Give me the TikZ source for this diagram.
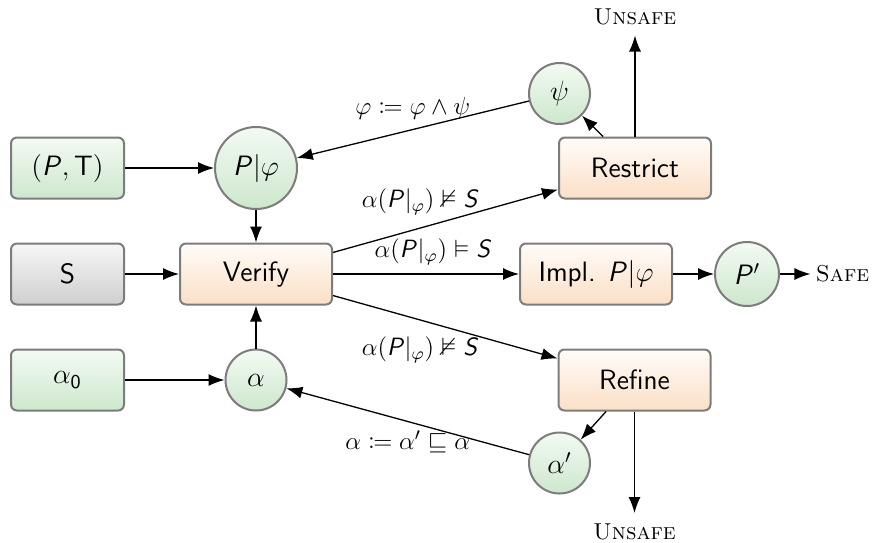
\RequirePackage{fix-cm}
\documentclass[tikz,border=0pt]{standalone}
\usepackage{amssymb}
\usepackage{mathtools}
\usetikzlibrary{arrows.meta}
% sans-serif italic letters for program and specification names
\DeclareMathAlphabet{\mathsfit}{OT1}{cmss}{m}{sl}
\definecolor{boxline}{HTML}{7C7C7C}
\definecolor{greenTop}{HTML}{F3FAF3}
\definecolor{greenBot}{HTML}{CDE7CD}
\definecolor{orangeTop}{HTML}{FFFCF9}
\definecolor{orangeBot}{HTML}{FBDFC6}
\definecolor{grayTop}{HTML}{F6F6F6}
\definecolor{grayBot}{HTML}{CFCFCF}
\begin{document}
\begin{tikzpicture}[x=0.5pt,y=-0.5pt,
  every node/.style={font=\sffamily\fontsize{14}{16}\selectfont},
  base/.style={draw=boxline, line width=1pt, inner sep=0pt},
  inbox/.style={base, rounded corners=3pt, minimum width=56.5pt, minimum height=30.5pt,
    top color=greenTop, bottom color=greenBot},
  graybox/.style={inbox, top color=grayTop, bottom color=grayBot},
  obox/.style={base, rounded corners=3pt, minimum width=76pt, minimum height=30.5pt,
    top color=orangeTop, bottom color=orangeBot},
  gcirc/.style={base, circle, minimum size=30.5pt, top color=greenTop, bottom color=greenBot},
  outtxt/.style={font=\fontsize{11.5}{13}\selectfont\scshape, inner sep=5pt},
  lbl/.style={font=\fontsize{12.5}{14}\selectfont, inner sep=0pt},
  arr/.style={-{Latex[length=8pt,width=6pt]}, line width=0.65pt}]
\useasboundingbox (0,0) rectangle (876,542);

% inputs
\node[inbox] (pt) at (67.5,168) {$(\mathsfit{P},\mathsf{T})$};
\node[graybox] (s) at (67.5,274) {S};
\node[inbox] (a0) at (67.5,380) {$\alpha_{\mathsf{0}}$};

% central loop
\node[gcirc, minimum size=41pt] (pphi) at (256,168) {$\mathsfit{P}|\varphi$};
\node[obox] (verify) at (256,274) {Verify};
\node[gcirc] (alpha) at (256,380) {$\alpha$};

% outcomes of the check
\node[obox] (restrict) at (635,168) {Restrict};
\node[gcirc] (psi) at (559.5,93.5) {$\psi$};
\node[obox] (impl) at (596,274) {Impl. $\mathsfit{P}|\varphi$};
\node[gcirc, minimum size=32pt] (pp) at (747,274) {$\mathsfit{P}'$};
\node[obox] (refine) at (634.5,380) {Refine};
\node[gcirc] (alphap) at (559.5,463) {$\alpha'$};

% verdicts
\node[outtxt, inner sep=2.5pt] (safe) at (842.5,274) {Safe};
\node[outtxt] (unsafeT) at (635,17) {Unsafe};
\node[outtxt] (unsafeB) at (634.5,531.5) {Unsafe};

% connectors
\draw[arr] (pt) -- (pphi);
\draw[arr] (pphi) -- (verify);
\draw[arr] (s) -- (verify);
\draw[arr] (a0) -- (alpha);
\draw[arr] (alpha) -- (verify);
\draw[arr] (verify) -- node[lbl, pos=0.39, yshift=13pt]
  {$\alpha(\mathsfit{P}|_{\varphi}) \nvDash \mathsfit{S}$} (restrict);
\draw[arr] (verify) -- node[lbl, pos=0.54, yshift=11pt]
  {$\alpha(\mathsfit{P}|_{\varphi}) \vDash \mathsfit{S}$} (impl);
\draw[arr] (verify) -- node[lbl, pos=0.39, yshift=-15pt]
  {$\alpha(\mathsfit{P}|_{\varphi}) \nvDash \mathsfit{S}$} (refine);
\draw[arr] (impl) -- (pp);
\draw[arr] (pp) -- (safe);
\draw[arr] (restrict) -- (psi);
\draw[arr] (psi) -- node[lbl, pos=0.5, yshift=10.5pt]
  {$\varphi \coloneqq \varphi \wedge \psi$} (pphi);
\draw[arr] (restrict) -- (unsafeT);
\draw[arr] (refine) -- (alphap);
\draw[arr] (alphap) -- node[lbl, pos=0.5, yshift=-10pt]
  {$\alpha \coloneqq \alpha' \sqsubseteq \alpha$} (alpha);
\draw[arr] (refine) -- (unsafeB);
\end{tikzpicture}
\end{document}
